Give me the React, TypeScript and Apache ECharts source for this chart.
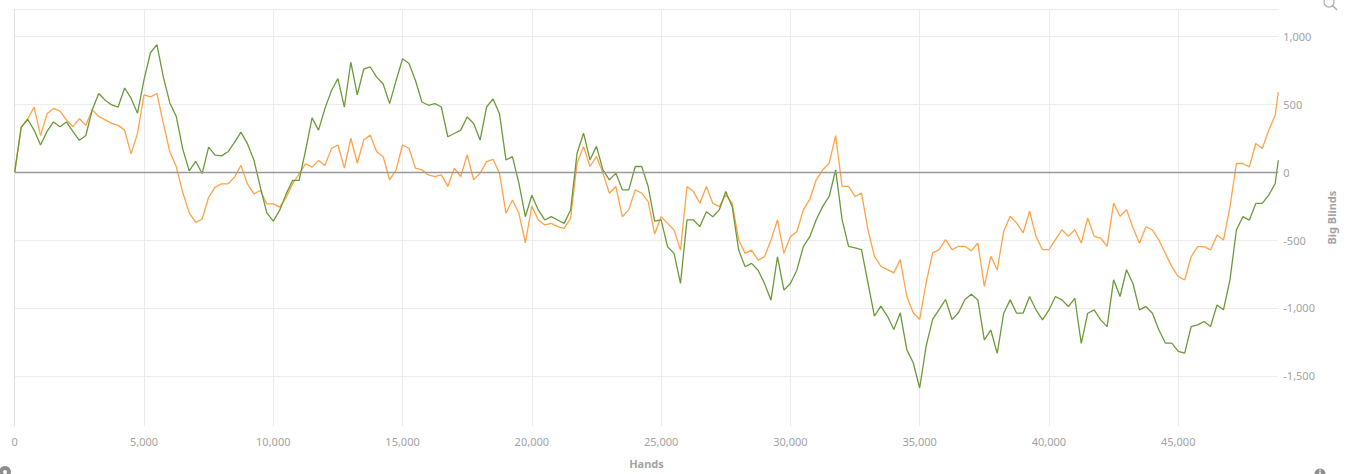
import React, { useEffect, useRef } from "react";
import * as echarts from "echarts";

// Sample grid: one reading every 250 hands, last reading at the final hand.
const STEP = 250;
const LAST_HAND = 48870;

const X_TICKS = [0, 5000, 10000, 15000, 20000, 25000, 30000, 35000, 40000, 45000];
const Y_TICKS = [-1500, -1000, -500, 0, 500, 1000];

const GREEN = [
  0, 330, 390, 310, 200, 300, 370, 335, 370, 300,
  235, 270, 460, 580, 530, 495, 480, 620, 545, 435,
  680, 880, 940, 700, 510, 410, 170, 10, 80, -10,
  185, 125, 120, 150, 220, 295, 210, 90, -110, -300,
  -360, -280, -160, -60, -60, 160, 400, 310, 470, 600,
  690, 480, 810, 570, 760, 775, 700, 650, 505, 675,
  835, 800, 675, 517, 493, 505, 480, 261, 285, 310,
  407, 359, 237, 480, 540, 430, 90, 115, -81, -328,
  -170, -278, -352, -328, -352, -377, -278, 140, 288, 91,
  190, 17, -57, -7, -130, -130, 42, 42, -106, -360,
  -352, -549, -598, -820, -352, -352, -401, -291, -328, -278,
  -143, -254, -574, -697, -672, -722, -820, -943, -623, -869,
  -820, -722, -549, -475, -350, -252, -179, 17, -350, -546,
  -558, -570, -816, -1060, -987, -1060, -1159, -1036, -1306, -1404,
  -1590, -1282, -1085, -1012, -938, -1085, -1036, -938, -900, -941,
  -1236, -1163, -1335, -1039, -941, -1039, -1039, -916, -1015, -1088,
  -1015, -916, -941, -990, -929, -1261, -1039, -1015, -1088, -1138,
  -793, -916, -719, -820, -1014, -990, -1039, -1161, -1259, -1259,
  -1320, -1333, -1137, -1125, -1100, -1137, -978, -1014, -794, -426,
  -328, -353, -230, -230, -169, -83, 88,
];

const ORANGE = [
  0, 330, 390, 480, 270, 430, 470, 450, 385, 335,
  395, 345, 460, 410, 385, 360, 345, 310, 135, 285,
  570, 555, 580, 360, 150, 40, -150, -300, -370, -345,
  -185, -110, -86, -86, -37, 50, -86, -160, -135, -234,
  -234, -258, -185, -86, -12, 62, 37, 86, 50, 175,
  200, 30, 250, 66, 237, 273, 150, 115, -56, 17,
  200, 176, 29, 17, -20, -32, -20, -105, 29, -32,
  127, -56, -7, 78, 95, -7, -303, -205, -303, -520,
  -250, -352, -389, -377, -401, -414, -340, 66, 190, 42,
  116, -7, -155, -106, -328, -278, -130, -155, -217, -455,
  -328, -377, -426, -574, -106, -143, -229, -106, -229, -254,
  -167, -229, -500, -598, -574, -648, -623, -500, -352, -598,
  -475, -438, -278, -200, -56, 17, 66, 270, -105, -105,
  -179, -154, -424, -620, -693, -718, -742, -644, -914, -1036,
  -1085, -816, -595, -571, -497, -571, -546, -546, -580, -522,
  -842, -620, -719, -436, -325, -374, -448, -288, -473, -571,
  -571, -497, -424, -473, -424, -522, -337, -473, -485, -547,
  -227, -325, -276, -410, -524, -402, -426, -500, -598, -696,
  -769, -794, -622, -549, -549, -573, -463, -500, -255, 64,
  64, 39, 211, 174, 309, 419, 590,
];

const Y_MIN = -1870;
const Y_MAX = 1200;

const handAt = (i: number) => Math.min(i * STEP, LAST_HAND);
const fmt = (v: number) => v.toLocaleString("en-US");

const FONT = "'Noto Sans', 'Open Sans', sans-serif";
const LABEL_COLOR = "#a3a3a3";
const GRID_COLOR = "#ececec";

export default function App() {
  const ref = useRef<HTMLDivElement>(null);

  useEffect(() => {
    if (!ref.current) return;
    const chart = echarts.init(ref.current, undefined, { renderer: "svg" });
    chart.setOption({
      animation: false,
      backgroundColor: "#ffffff",
      grid: {
        left: 14.7,
        right: 72.7,
        top: 9.3,
        bottom: 48,
        containLabel: false,
        outerBoundsMode: "none",
      },
      xAxis: {
        type: "value",
        min: 0,
        max: LAST_HAND,
        name: "Hands",
        nameLocation: "middle",
        nameGap: 32,
        nameTextStyle: { color: LABEL_COLOR, fontFamily: FONT, fontSize: 11, fontWeight: "bold" },
        axisLine: { show: true, lineStyle: { color: "#e3e3e3", width: 1 } },
        axisTick: { show: false, customValues: X_TICKS },
        splitLine: { show: true, lineStyle: { color: GRID_COLOR, width: 1 } },
        axisLabel: {
          color: LABEL_COLOR,
          fontFamily: FONT,
          fontSize: 11,
          margin: 10,
          customValues: X_TICKS,
          formatter: (v: number) => fmt(v),
        },
      },
      yAxis: {
        type: "value",
        position: "right",
        min: Y_MIN,
        max: Y_MAX,
        name: "Big Blinds",
        nameLocation: "middle",
        nameRotate: 90,
        nameGap: 45,
        nameTextStyle: { color: LABEL_COLOR, fontFamily: FONT, fontSize: 11, fontWeight: "bold" },
        axisLine: { show: true, lineStyle: { color: "#e3e3e3", width: 1 } },
        axisTick: { show: false, customValues: [-1500, -1000, -500, 500, 1000, 1200] },
        splitLine: { show: true, lineStyle: { color: GRID_COLOR, width: 1 } },
        axisLabel: {
          color: LABEL_COLOR,
          fontFamily: FONT,
          fontSize: 11,
          margin: 5,
          customValues: Y_TICKS,
          formatter: (v: number) => fmt(v),
        },
      },
      series: [
        {
          name: "orange",
          type: "line",
          showSymbol: false,
          symbol: "none",
          data: ORANGE.map((v, i) => [handAt(i), v]),
          lineStyle: { color: "#ffa348", width: 1.3 },
          itemStyle: { color: "#ffa348" },
          z: 3,
          markLine: {
            silent: true,
            symbol: "none",
            label: { show: false },
            lineStyle: { color: "#999999", width: 1.4, type: "solid" },
            data: [{ yAxis: 0 }],
          },
        },
        {
          name: "green",
          type: "line",
          showSymbol: false,
          symbol: "none",
          data: GREEN.map((v, i) => [handAt(i), v]),
          lineStyle: { color: "#6c9a3b", width: 1.3 },
          itemStyle: { color: "#6c9a3b" },
          z: 4,
        },
      ],
      graphic: [
        {
          type: "circle",
          shape: { cx: 1329, cy: 2, r: 5 },
          style: { fill: "none", stroke: "#b0b0b0", lineWidth: 1.3 },
        },
        {
          type: "line",
          shape: { x1: 1332.5, y1: 5.5, x2: 1337, y2: 10 },
          style: { stroke: "#b0b0b0", lineWidth: 1.6 },
        },
        {
          type: "circle",
          shape: { cx: 5, cy: 472, r: 6 },
          style: { fill: "#8e8e8e" },
        },
        {
          type: "circle",
          shape: { cx: 5, cy: 472, r: 2 },
          style: { fill: "#ffffff" },
        },
        {
          type: "circle",
          shape: { cx: 1320, cy: 474, r: 5.5 },
          style: { fill: "#8e8e8e" },
        },
        {
          type: "rect",
          shape: { x: 1319.3, y: 471.5, width: 1.4, height: 3 },
          style: { fill: "#ffffff" },
        },
        {
          type: "rect",
          shape: { x: 1319.3, y: 469.6, width: 1.4, height: 1.2 },
          style: { fill: "#ffffff" },
        },
      ],
    });
    return () => chart.dispose();
  }, []);

  return (
    <div
      ref={ref}
      style={{ position: "absolute", left: 0, top: 0, width: 1351, height: 474 }}
    />
  );
}
